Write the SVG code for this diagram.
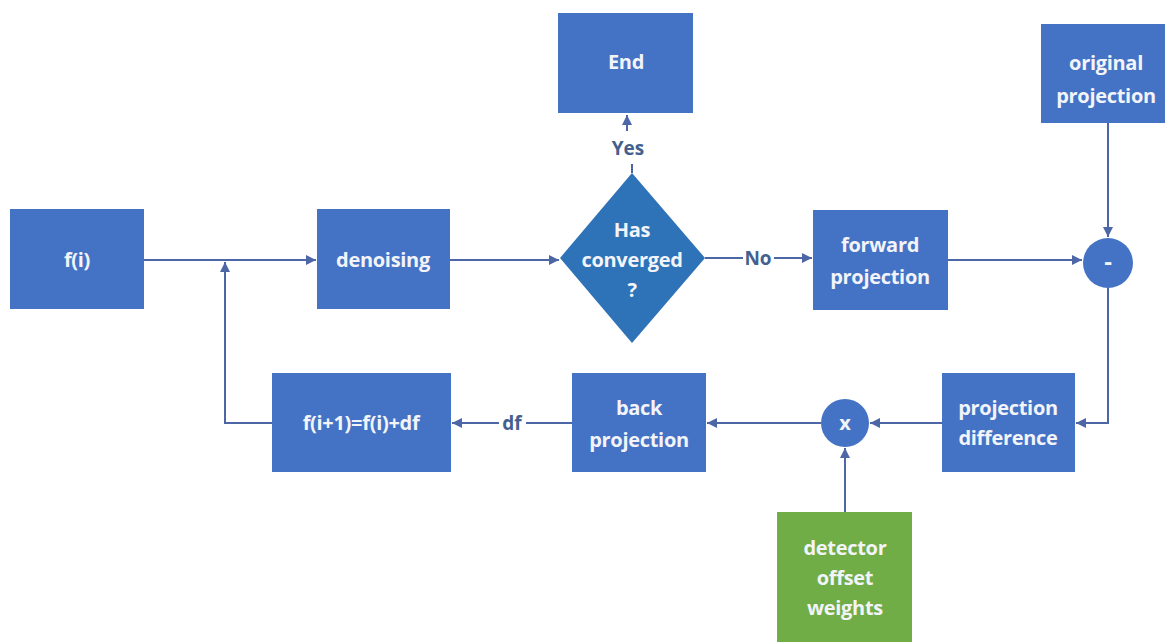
<svg xmlns="http://www.w3.org/2000/svg" width="1165" height="642" viewBox="0 0 1165 642">
<style>
.box{fill:#4472c4;}
.green{fill:#70ad47;}
.dia{fill:#2e72b8;}
.t{font-family:"Open Sans","Liberation Sans",sans-serif;font-weight:bold;font-size:20px;fill:#f2f4fa;text-anchor:middle;letter-spacing:-0.3px;}
.lbl{font-family:"Open Sans","Liberation Sans",sans-serif;font-weight:bold;font-size:19px;fill:#44608f;text-anchor:middle;}
.c{fill:none;stroke:#4d66a6;stroke-width:2;}
</style>
<defs>
<marker id="ah" viewBox="0 0 10 10" refX="10" refY="5" markerWidth="5" markerHeight="5" orient="auto" markerUnits="strokeWidth">
<path d="M0,0 L10,5 L0,10 z" fill="#4d66a6"/>
</marker>
</defs>
<rect width="1165" height="642" fill="#ffffff"/>
<g id="connectors">
<path class="c" d="M144,260 H316" marker-end="url(#ah)"/>
<path class="c" d="M450,260 H559" marker-end="url(#ah)"/>
<path class="c" d="M632,173 V164"/>
<path class="c" d="M627,131 V115" marker-end="url(#ah)"/>
<path class="c" d="M705,258 H743"/>
<path class="c" d="M774,258 H812" marker-end="url(#ah)"/>
<path class="c" d="M948,260 H1082" marker-end="url(#ah)"/>
<path class="c" d="M1108,123 V237" marker-end="url(#ah)"/>
<path class="c" d="M1108,288 V423 H1076" marker-end="url(#ah)"/>
<path class="c" d="M942,423 H870" marker-end="url(#ah)"/>
<path class="c" d="M845,512 V448" marker-end="url(#ah)"/>
<path class="c" d="M821,423 H707" marker-end="url(#ah)"/>
<path class="c" d="M572,423 H526"/>
<path class="c" d="M499,423 H452" marker-end="url(#ah)"/>
<path class="c" d="M272,423 H225 V262" marker-end="url(#ah)"/>
<text class="lbl" x="628" y="155">Yes</text>
<text class="lbl" x="758" y="265">No</text>
<text class="lbl" x="512" y="430">df</text>
</g>
<g id="fi"><rect class="box" x="10" y="209" width="134" height="100"/><text class="t" x="77" y="267">f(i)</text></g>
<g id="denoising"><rect class="box" x="317" y="209" width="133" height="100"/><text class="t" x="383" y="267">denoising</text></g>
<g id="converged"><path class="dia" d="M632,173 L705,258 L632,343 L560,258 Z"/><text class="t" x="632" y="237">Has</text><text class="t" x="632" y="267">converged</text><text class="t" x="632" y="297">?</text></g>
<g id="end"><rect class="box" x="558" y="13" width="135" height="100"/><text class="t" x="626" y="69">End</text></g>
<g id="forward"><rect class="box" x="813" y="210" width="135" height="100"/><text class="t" x="880" y="252">forward</text><text class="t" x="880" y="284">projection</text></g>
<g id="original"><rect class="box" x="1041" y="24" width="130" height="99"/><text class="t" x="1106" y="70">original</text><text class="t" x="1106" y="103">projection</text></g>
<g id="minus"><circle class="box" cx="1108" cy="263" r="25"/><text class="t" x="1108" y="270" style="font-size:24px">-</text></g>
<g id="projdiff"><rect class="box" x="942" y="373" width="133" height="99"/><text class="t" x="1008" y="415">projection</text><text class="t" x="1008" y="445">difference</text></g>
<g id="times"><circle class="box" cx="845" cy="423" r="24"/><text class="t" x="845" y="430">x</text></g>
<g id="detector"><rect class="green" x="777" y="512" width="135" height="140"/><text class="t" x="845" y="555">detector</text><text class="t" x="845" y="585">offset</text><text class="t" x="845" y="615">weights</text></g>
<g id="back"><rect class="box" x="572" y="373" width="134" height="99"/><text class="t" x="639" y="415">back</text><text class="t" x="639" y="447">projection</text></g>
<g id="update"><rect class="box" x="272" y="373" width="179" height="99"/><text class="t" x="361" y="430">f(i+1)=f(i)+df</text></g>
</svg>
